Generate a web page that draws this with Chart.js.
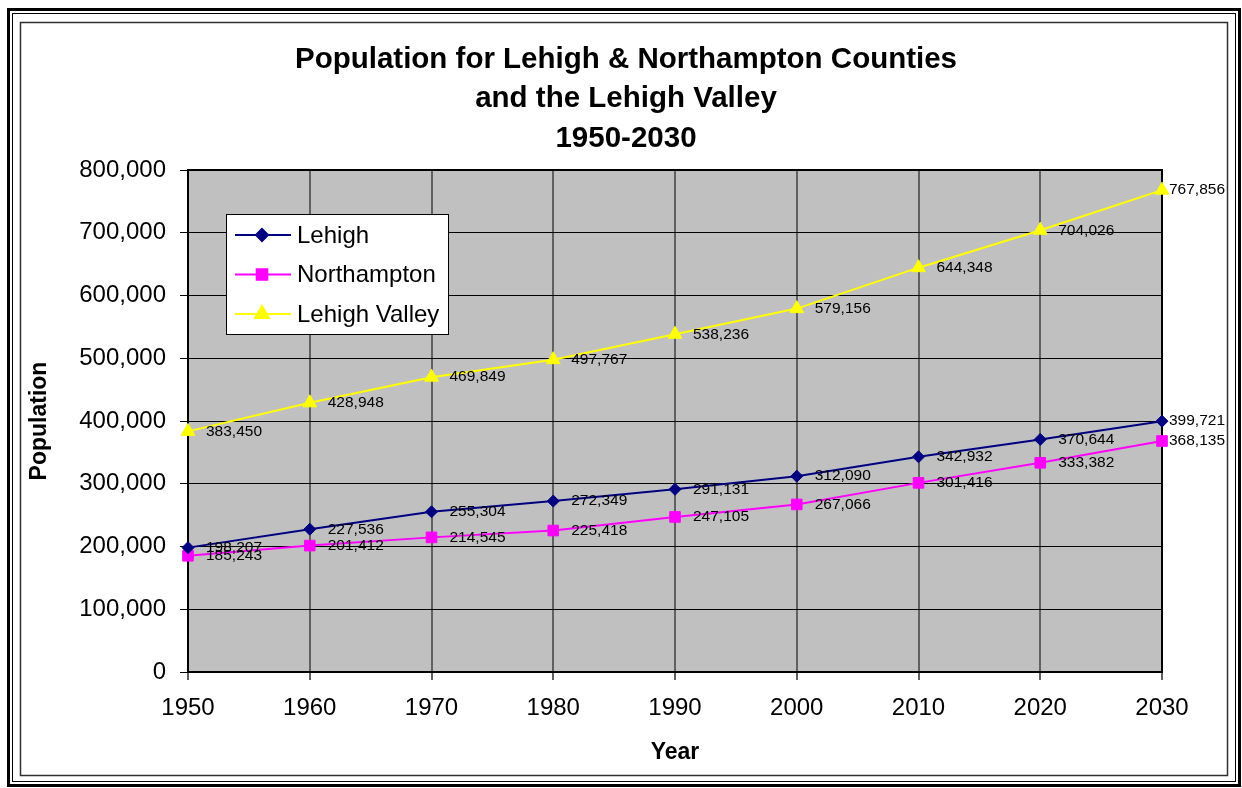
<!DOCTYPE html>
<html>
<head>
<meta charset="utf-8">
<script src="https://cdn.jsdelivr.net/npm/chart.js@4/dist/chart.umd.min.js"></script>
<style>
  html, body { margin: 0; padding: 0; background: #ffffff; }
  canvas { display: block; }
</style>
</head>
<body>
<canvas id="c" width="1242" height="788"></canvas>
<script>
const years = ['1950', '1960', '1970', '1980', '1990', '2000', '2010', '2020', '2030'];
const lehigh = [198207, 227536, 255304, 272349, 291131, 312090, 342932, 370644, 399721];
const northampton = [185243, 201412, 214545, 225418, 247105, 267066, 301416, 333382, 368135];
const lehighValley = [383450, 428948, 469849, 497767, 538236, 579156, 644348, 704026, 767856];
const seriesNames = ['Lehigh', 'Northampton', 'Lehigh Valley'];
const titleLines = ['Population for Lehigh & Northampton Counties', 'and the Lehigh Valley', '1950-2030'];

const FONT = "'Liberation Sans', Arial, sans-serif";
const fmt = v => v.toLocaleString('en-US');

const framePlugin = {
  id: 'frame',
  beforeDraw(chart) {
    const ctx = chart.ctx;
    ctx.save();
    ctx.fillStyle = '#ffffff';
    ctx.fillRect(0, 0, chart.width, chart.height);
    ctx.strokeStyle = '#000000';
    ctx.lineWidth = 3;
    ctx.strokeRect(8.5, 9.5, 1231, 776);
    ctx.lineWidth = 1;
    ctx.strokeRect(12.5, 13.5, 1223, 768);
    ctx.strokeStyle = '#303030';
    ctx.lineWidth = 1.5;
    ctx.strokeRect(20.5, 22.5, 1207, 753);
    const a = chart.chartArea;
    ctx.fillStyle = '#C0C0C0';
    ctx.fillRect(a.left, a.top, a.right - a.left, a.bottom - a.top);
    ctx.restore();
  },
  beforeDatasetsDraw(chart) {
    const ctx = chart.ctx;
    const a = chart.chartArea;
    ctx.save();
    ctx.strokeStyle = '#000000';
    ctx.lineWidth = 2;
    ctx.strokeRect(a.left, a.top, a.right - a.left, a.bottom - a.top);
    ctx.restore();
  }
};

const labelPlugin = {
  id: 'valueLabels',
  afterDatasetsDraw(chart) {
    const ctx = chart.ctx;
    ctx.save();
    ctx.font = '15.5px ' + FONT;
    ctx.fillStyle = '#000000';
    ctx.textBaseline = 'middle';
    ctx.textAlign = 'left';
    chart.data.datasets.forEach((ds, i) => {
      const meta = chart.getDatasetMeta(i);
      meta.data.forEach((pt, j) => {
        const txt = fmt(ds.data[j]);
        const w = ctx.measureText(txt).width;
        let x = pt.x + 18;
        if (x + w > 1225) x = 1225 - w;
        ctx.fillText(txt, x, pt.y);
      });
    });
    ctx.restore();
  }
};

const legendPlugin = {
  id: 'boxLegend',
  afterDraw(chart) {
    const ctx = chart.ctx;
    const a = chart.chartArea;
    const x = a.left + 38, y = a.top + 44, w = 222, h = 120;
    ctx.save();
    ctx.fillStyle = '#ffffff';
    ctx.fillRect(x, y, w, h);
    ctx.strokeStyle = '#000000';
    ctx.lineWidth = 1;
    ctx.strokeRect(x + 0.5, y + 0.5, w, h);
    chart.data.datasets.forEach((ds, i) => {
      const cy = y + 21 + i * 39.5;
      ctx.strokeStyle = ds.borderColor;
      ctx.lineWidth = 2;
      ctx.beginPath();
      ctx.moveTo(x + 9, cy);
      ctx.lineTo(x + 65, cy);
      ctx.stroke();
      ctx.fillStyle = ds.pointBackgroundColor;
      ctx.strokeStyle = ds.pointBorderColor;
      Chart.helpers.drawPoint(ctx, {pointStyle: ds.pointStyle, radius: ds.pointRadius, rotation: 0, borderWidth: 1}, x + 36, cy);
      ctx.fillStyle = '#000000';
      ctx.font = '24px ' + FONT;
      ctx.textBaseline = 'middle';
      ctx.textAlign = 'left';
      ctx.fillText(ds.label, x + 71, cy + 1);
    });
    ctx.restore();
  }
};

function makeDs(label, data, color, style, radius) {
  return {
    label, data,
    borderColor: color,
    backgroundColor: color,
    pointBackgroundColor: color,
    pointBorderColor: color,
    pointBorderWidth: 1,
    pointStyle: style,
    pointRadius: radius,
    borderWidth: 2,
    tension: 0,
    clip: false
  };
}

new Chart(document.getElementById('c'), {
  type: 'line',
  data: {
    labels: years,
    datasets: [
      makeDs(seriesNames[0], lehigh, '#000080', 'rectRot', 6),
      makeDs(seriesNames[1], northampton, '#FF00FF', 'rect', 7.5),
      makeDs(seriesNames[2], lehighValley, '#FFFF00', 'triangle', 8)
    ]
  },
  options: {
    responsive: false,
    animation: false,
    devicePixelRatio: 1,
    layout: { padding: { top: 0, right: 0, bottom: 0, left: 10 } },
    plugins: {
      legend: { display: false },
      tooltip: { enabled: false },
      title: {
        display: true,
        text: titleLines,
        color: '#000000',
        font: { family: FONT, size: 29.5, weight: 'bold', lineHeight: '39.5px' },
        padding: { top: 40, bottom: 11.5 }
      }
    },
    scales: {
      x: {
        type: 'category',
        offset: false,
        afterFit(scale) { scale.height = 116; },
        grid: { color: '#606060', lineWidth: 2, tickLength: 8, tickColor: '#606060', offset: false },
        border: { display: true, color: '#000000', width: 2 },
        ticks: { color: '#000000', font: { family: FONT, size: 24 }, padding: 14, autoSkip: false, maxRotation: 0 },
        title: { display: true, text: 'Year', color: '#000000', font: { family: FONT, size: 23, weight: 'bold' }, padding: { top: 0, bottom: 22 } }
      },
      y: {
        min: 0,
        max: 800000,
        afterFit(scale) { scale.width = 178; },
        grid: { color: '#000000', lineWidth: 1, tickLength: 8, tickColor: '#000000' },
        border: { display: true, color: '#000000', width: 2 },
        ticks: { stepSize: 100000, color: '#000000', font: { family: FONT, size: 24 }, padding: 14, callback: v => fmt(v) },
        title: { display: true, text: 'Population', color: '#000000', font: { family: FONT, size: 23, weight: 'bold' }, padding: { top: 16, bottom: 0 } }
      },
      yRight: {
        position: 'right',
        min: 0,
        max: 800000,
        afterFit(scale) { scale.width = 80; },
        grid: { display: false, drawOnChartArea: false },
        border: { display: false },
        ticks: { display: false },
        title: { display: false }
      }
    }
  },
  plugins: [framePlugin, labelPlugin, legendPlugin]
});
</script>
</body>
</html>
